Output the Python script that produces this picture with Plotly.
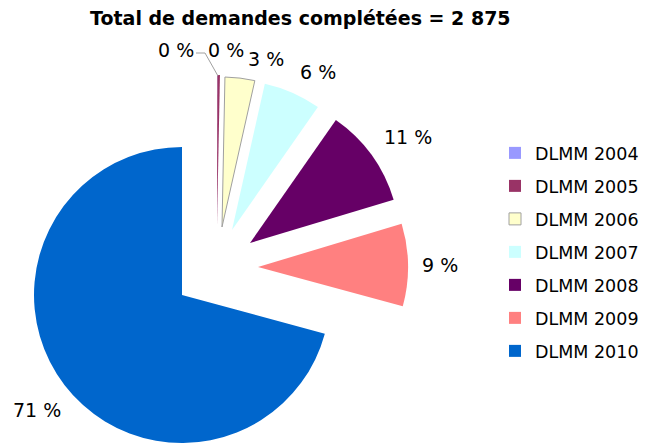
import plotly.graph_objects as go

# counts per intake year (total = 2 875)
labels = ["DLMM 2004", "DLMM 2005", "DLMM 2006", "DLMM 2007", "DLMM 2008", "DLMM 2009", "DLMM 2010"]
counts = [1, 8, 92, 178, 306, 255, 2035]
colors = ["#9999FF", "#993366", "#FFFFCC", "#CCFFFF", "#660066", "#FF8080", "#0066CC"]
title = "Total de demandes complétées = 2 875"

# page body keeps its default 8px margin, so the figure is drawn 8px in from the top-left
OFF = 8
W, H = 647 - OFF, 447 - OFF
FONT = "DejaVu Sans"

# where each slice's apex sits (screen px) and its radius -- exploded look
apex = [(217, 225), (217, 225), (222, 227), (232, 230), (250, 243), (258, 267), (182, 295)]
radius = [150, 150, 150, 150, 150, 150, 148]
line_w = [0, 0, 1, 0, 0, 0, 0]
# percentage label centres (screen px)
label_pos = [(176, 50), (226, 50), (266, 59), (318, 72), (408, 137), (440, 265), (37, 410)]
# leader line of the 2004 label (screen px)
leader = [(196, 53), (205, 53), (218, 76)]

total = sum(counts)
pct_text = [f"{round(v / total * 100)} %" for v in counts]


def px(x):
    return (x - OFF) / W


def py(y):
    return 1 - (y - OFF) / H


def dom(cx, cy, r):
    return dict(x=[px(cx - r), px(cx + r)], y=[py(cy + r), py(cy - r)])


fig = go.Figure()

# legend-only traces (tiny, hidden under the big slice)
for lab, col, lw in zip(labels, colors, line_w):
    fig.add_trace(go.Pie(
        labels=[lab], values=[1], sort=False, textinfo="none", hoverinfo="skip",
        marker=dict(colors=[col], line=dict(color="#A0A0A0", width=lw)),
        domain=dict(x=[0.15, 0.1502], y=[0.25, 0.2502]),
        legendgroup=lab, showlegend=True,
    ))

# one trace per slice, each on its own domain so it can be pushed out
for i in range(len(labels)):
    cols = ["rgba(0,0,0,0)"] * len(labels)
    cols[i] = colors[i]
    widths = [0] * len(labels)
    widths[i] = line_w[i]
    fig.add_trace(go.Pie(
        labels=labels, values=counts, sort=False, direction="clockwise", rotation=0,
        marker=dict(colors=cols, line=dict(color="#A0A0A0", width=widths)),
        textinfo="none",
        domain=dom(apex[i][0], apex[i][1], radius[i]),
        showlegend=False, hoverinfo="label+value",
    ))

for i, (lx, ly) in enumerate(label_pos):
    fig.add_annotation(x=px(lx), y=py(ly), xref="paper", yref="paper", text=pct_text[i],
                       xanchor="center", yanchor="middle", showarrow=False,
                       font=dict(family=FONT, size=19, color="black"))

for (xa, ya), (xb, yb) in zip(leader[:-1], leader[1:]):
    fig.add_shape(type="line", xref="paper", yref="paper", x0=px(xa), x1=px(xb),
                  y0=py(ya), y1=py(yb), line=dict(color="#A0A0A0", width=1))

fig.add_annotation(x=px(300), y=py(18), xref="paper", yref="paper", text=f"<b>{title}</b>",
                   xanchor="center", yanchor="middle", showarrow=False,
                   font=dict(family=FONT, size=19, color="black"))

fig.update_layout(
    width=W, height=H,
    margin=dict(l=0, r=0, t=0, b=0, autoexpand=False),
    paper_bgcolor="white",
    font=dict(family=FONT, size=18, color="black"),
    legend=dict(x=px(495), xanchor="left", y=py(135), yanchor="top", tracegroupgap=7.25,
                font=dict(family=FONT, size=17.5), bgcolor="rgba(0,0,0,0)"),
)

fig.write_html("out.html")
